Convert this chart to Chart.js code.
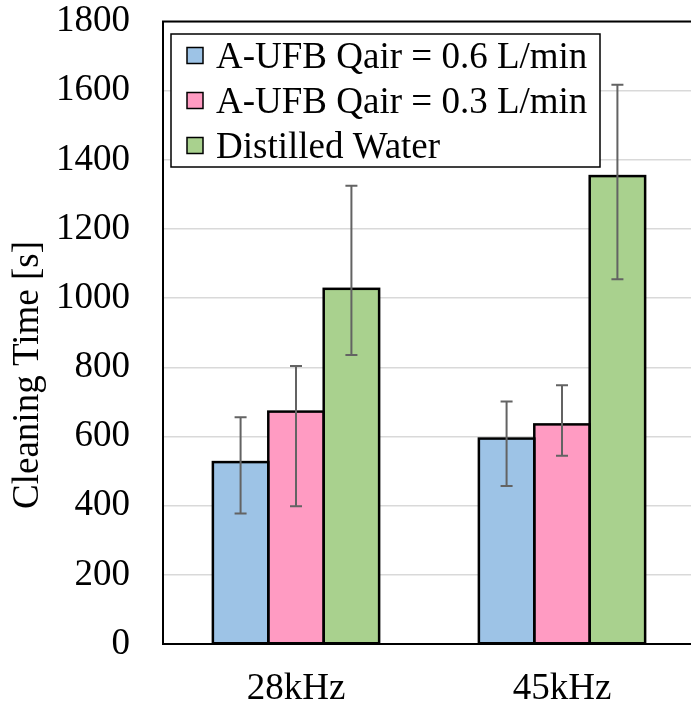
<!DOCTYPE html>
<html>
<head>
<meta charset="utf-8">
<title>Cleaning Time</title>
<script src="https://cdn.jsdelivr.net/npm/chart.js@4"></script>
<style>
  html, body { margin: 0; padding: 0; background: #fff; overflow: hidden; }
  #wrap { width: 697px; height: 703px; position: relative; }
</style>
</head>
<body>
<div id="wrap"><canvas id="chart"></canvas></div>
<script>
"use strict";

// chart values
const categories = ["28kHz", "45kHz"];
const seriesNames = ["A-UFB Qair = 0.6 L/min", "A-UFB Qair = 0.3 L/min", "Distilled Water"];
const flow06 = [526, 594];
const flow03 = [672, 635];
const water = [1027, 1353];
// error bar ends (low / high) per series
const flow06Low = [377, 457];
const flow06High = [656, 701];
const flow03Low = [398, 544];
const flow03High = [804, 748];
const waterLow = [836, 1055];
const waterHigh = [1325, 1617];
const yTitle = "Cleaning Time [s]";

(function() {
  const FONT = "'Liberation Serif', 'Times New Roman', serif";
  const colors = ["#9DC3E6", "#FF9BC2", "#A9D18E"];
  const lows = [flow06Low, flow03Low, waterLow];
  const highs = [flow06High, flow03High, waterHigh];

  // bar outlines (centred on the edges, like Excel) + whiskers through the y scale
  const errorBars = {
    id: "errorBars",
    afterDatasetsDraw(chart) {
      let ctx = chart.ctx;
      let y = chart.scales.y;
      ctx.save();
      ctx.strokeStyle = "#000";
      ctx.lineWidth = 2.5;
      chart.data.datasets.forEach(function(ds, i) {
        chart.getDatasetMeta(i).data.forEach(function(bar) {
          let p = bar.getProps(["x", "y", "base", "width"], true);
          ctx.strokeRect(p.x - p.width / 2, p.y, p.width, p.base - p.y);
        });
      });
      ctx.strokeStyle = "#636363";
      ctx.lineWidth = 2;
      chart.data.datasets.forEach(function(ds, i) {
        chart.getDatasetMeta(i).data.forEach(function(bar, j) {
          let top = y.getPixelForValue(highs[i][j]);
          let bot = y.getPixelForValue(lows[i][j]);
          ctx.beginPath();
          ctx.moveTo(bar.x, top);
          ctx.lineTo(bar.x, bot);
          ctx.moveTo(bar.x - 6, top);
          ctx.lineTo(bar.x + 6, top);
          ctx.moveTo(bar.x - 6, bot);
          ctx.lineTo(bar.x + 6, bot);
          ctx.stroke();
        });
      });
      ctx.restore();
    }
  };

  // black frame round the plot area
  const frame = {
    id: "frame",
    afterDatasetsDraw(chart) {
      let a = chart.chartArea;
      let ctx = chart.ctx;
      ctx.save();
      ctx.strokeStyle = "#000";
      ctx.lineWidth = 2;
      ctx.strokeRect(a.left, a.top, a.right - a.left, a.bottom - a.top);
      ctx.restore();
    }
  };

  // boxed legend inside the plot, top left; y title sits a bit below centre
  const boxLegend = {
    id: "boxLegend",
    afterDraw(chart) {
      let a = chart.chartArea;
      let ctx = chart.ctx;
      let x0 = a.left + 8, y0 = a.top + 12.5;
      ctx.save();
      ctx.fillStyle = "#fff";
      ctx.fillRect(x0, y0, 429, 133);
      ctx.strokeStyle = "#000";
      ctx.lineWidth = 1.5;
      ctx.strokeRect(x0, y0, 429, 133);
      ctx.font = "37px " + FONT;
      ctx.textBaseline = "alphabetic";
      chart.data.datasets.forEach(function(ds, i) {
        let cy = y0 + 21.5 + i * 45;
        ctx.fillStyle = ds.backgroundColor;
        ctx.fillRect(x0 + 16, cy - 8, 16, 16);
        ctx.lineWidth = 1.5;
        ctx.strokeRect(x0 + 16, cy - 8, 16, 16);
        ctx.fillStyle = "#000";
        ctx.fillText(ds.label, x0 + 45, cy + 12.5);
      });

      ctx.translate(28, 375);
      ctx.rotate(-Math.PI / 2);
      ctx.textAlign = "center";
      ctx.textBaseline = "middle";
      ctx.fillText(yTitle, 0, 0);
      ctx.restore();
    }
  };

  window.addEventListener("load", init);

  function init() {
    let datasets = [flow06, flow03, water].map(function(vals, i) {
      return {
        label: seriesNames[i],
        data: vals,
        backgroundColor: colors[i],
        borderWidth: 0,
        barPercentage: 1,
        categoryPercentage: 0.625
      };
    });

    new Chart(id("chart"), {
      type: "bar",
      data: { labels: categories, datasets: datasets },
      plugins: [errorBars, frame, boxLegend],
      options: {
        responsive: true,
        maintainAspectRatio: false,
        animation: false,
        layout: { padding: { top: 21.5, right: 2, left: 0, bottom: 0 } },
        plugins: { legend: { display: false }, tooltip: { enabled: false } },
        scales: {
          x: {
            grid: { display: false, drawTicks: false },
            border: { color: "#000", width: 2 },
            ticks: { color: "#000", padding: 23, font: { family: FONT, size: 37 } },
            afterFit: function(s) { s.height = 59; }
          },
          y: {
            min: 0,
            max: 1800,
            grid: { color: "#D9D9D9", lineWidth: 1.5, drawTicks: false },
            border: { color: "#000", width: 2 },
            ticks: {
              stepSize: 200,
              color: "#000",
              padding: 33,
              font: { family: FONT, size: 37 },
              callback: function(v) { return String(v); }
            },
            // fixed width, and no extra room above the top label
            afterFit: function(s) {
              s.width = 163;
              s.paddingTop = 0;
              s.paddingBottom = 0;
            }
          }
        }
      }
    });
  }

  function id(name) {
    return document.getElementById(name);
  }
})();
</script>
</body>
</html>
